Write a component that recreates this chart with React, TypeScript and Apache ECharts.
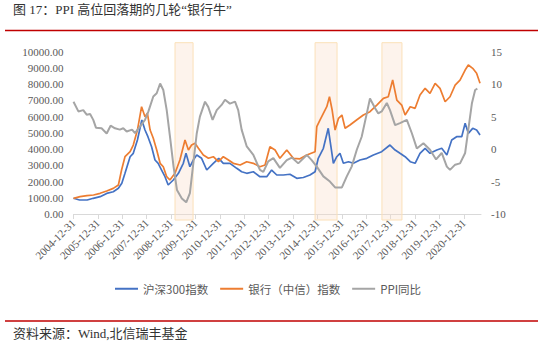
import React, { useEffect, useRef } from 'react';
import * as echarts from 'echarts';

// x = years elapsed since 2004-12-31
const TITLE = '图 17：PPI 高位回落期的几轮“银行牛”';
const SOURCE = '资料来源：Wind,北信瑞丰基金';
const seriesNames = ['沪深300指数', '银行（中信）指数', 'PPI同比'];

const csi300: number[][] = [
  [0, 967], [0.25, 862], [0.56, 862], [0.81, 967], [1.09, 1066], [1.36, 1269], [1.63, 1374], [1.84, 1583],
  [1.98, 1891], [2.11, 2507], [2.32, 3530], [2.45, 3739], [2.62, 4558], [2.8, 5790], [2.93, 5174], [3.05, 4762],
  [3.2, 4146], [3.34, 3326], [3.47, 3123], [3.61, 2710], [3.75, 2298], [3.88, 1786], [4.09, 2094], [4.3, 2507],
  [4.5, 3123], [4.61, 3739], [4.77, 2914], [4.91, 3326], [5.05, 3634], [5.25, 3431], [5.46, 2710], [5.73, 3123],
  [5.95, 3431], [6.14, 3123], [6.41, 3123], [6.69, 2815], [6.89, 2606], [7.1, 2507], [7.37, 2606], [7.64, 2298],
  [7.92, 2298], [8.12, 2710], [8.33, 2402], [8.6, 2402], [8.87, 2450], [9.15, 2199], [9.42, 2250], [9.69, 2402],
  [9.9, 2606], [10.03, 3431], [10.24, 4047], [10.44, 5279], [10.55, 4146], [10.65, 3123], [10.79, 3530], [10.92, 3739],
  [11.06, 3123], [11.27, 3222], [11.47, 3123], [11.74, 3326], [12.02, 3431], [12.29, 3634], [12.63, 3838], [12.97, 4250],
  [13.18, 3942], [13.38, 3739], [13.59, 3530], [13.8, 3222], [14.0, 3123], [14.2, 3739], [14.41, 4047], [14.61, 3739],
  [14.89, 3942], [15.09, 4047], [15.3, 3634], [15.5, 4558], [15.7, 4762], [15.91, 4762], [16.05, 5587], [16.18, 4971],
  [16.36, 5279], [16.52, 5174], [16.66, 4866],
];

const bank: number[][] = [
  [0, 967], [0.27, 1066], [0.55, 1127], [0.82, 1170], [1.09, 1274], [1.36, 1417], [1.63, 1580], [1.84, 1786],
  [1.97, 2710], [2.11, 3530], [2.32, 3838], [2.45, 4250], [2.62, 5174], [2.79, 6610], [2.93, 5994], [3.03, 6203],
  [3.14, 5174], [3.27, 4663], [3.41, 3942], [3.55, 3123], [3.68, 2914], [3.82, 2298], [3.95, 2094], [4.16, 2507],
  [4.36, 3326], [4.57, 4558], [4.71, 3942], [4.84, 4250], [4.98, 4353], [5.12, 4047], [5.32, 3634], [5.53, 3431],
  [5.73, 3530], [5.94, 3222], [6.14, 3530], [6.35, 3326], [6.55, 3123], [6.83, 3018], [7.1, 3222], [7.37, 3123],
  [7.64, 2914], [7.85, 3018], [8.05, 4146], [8.26, 3942], [8.46, 3431], [8.74, 3942], [9.01, 3431], [9.28, 3400],
  [9.56, 3634], [9.9, 3838], [9.97, 5378], [10.1, 5790], [10.24, 6203], [10.38, 6610], [10.49, 7226], [10.6, 6406],
  [10.72, 5174], [10.86, 5895], [11.0, 6098], [11.13, 5279], [11.33, 5482], [11.6, 5790], [11.88, 6098], [12.15, 6302],
  [12.43, 6714], [12.7, 7127], [12.9, 7226], [13.08, 8254], [13.25, 7022], [13.45, 6714], [13.59, 6098], [13.8, 6610],
  [14.0, 6511], [14.2, 7330], [14.41, 7743], [14.61, 7435], [14.82, 8051], [15.02, 7743], [15.23, 6918], [15.43, 7226],
  [15.64, 7946], [15.84, 8254], [16.05, 8870], [16.18, 9178], [16.36, 8975], [16.52, 8667], [16.66, 8051],
];

const ppi: number[][] = [
  [0, 7.3], [0.2, 5.8], [0.4, 6.0], [0.54, 5.3], [0.68, 5.4], [0.81, 4.5], [0.92, 3.3], [1.15, 3.2], [1.36, 2.4],
  [1.52, 3.6], [1.7, 3.2], [1.9, 3.0], [2.04, 3.2], [2.18, 2.7], [2.4, 3.0], [2.52, 2.45], [2.73, 3.5], [2.93, 4.5],
  [3.07, 5.8], [3.27, 8.1], [3.41, 8.6], [3.55, 10.1], [3.68, 9.1], [3.82, 6.0], [3.97, 1.4], [4.1, -2.7], [4.24, -6.3],
  [4.44, -7.6], [4.62, -8.2], [4.77, -6.8], [4.91, -2.2], [5.05, 2.4], [5.18, 5.0], [5.39, 7.3], [5.52, 6.5], [5.7, 4.5],
  [5.87, 6.0], [6.07, 6.8], [6.21, 7.6], [6.41, 7.0], [6.62, 7.3], [6.75, 6.0], [6.89, 3.0], [7.1, 0.4], [7.37, -0.9],
  [7.64, -3.2], [7.78, -3.5], [7.98, -1.9], [8.19, -1.4], [8.46, -2.9], [8.74, -1.7], [8.95, -1.3], [9.21, -2.2],
  [9.56, -0.9], [9.76, -1.7], [9.97, -2.7], [10.24, -4.2], [10.51, -5.0], [10.72, -5.9], [11.0, -5.9], [11.2, -4.2],
  [11.4, -2.7], [11.61, -0.1], [11.81, 1.9], [12.02, 5.5], [12.15, 7.8], [12.36, 6.3], [12.49, 5.5], [12.63, 5.8],
  [12.84, 7.1], [12.97, 6.0], [13.18, 3.7], [13.38, 4.0], [13.66, 4.5], [13.87, 2.4], [14.07, 0.1], [14.34, 0.9],
  [14.61, -0.1], [14.86, -1.6], [15.09, -0.6], [15.3, -2.7], [15.43, -3.2], [15.64, -2.4], [15.84, -2.2], [16.05, -0.6],
  [16.18, 3.0], [16.33, 7.1], [16.46, 9.1], [16.55, 9.3],
];

const bands: number[][] = [
  [4.16, 4.9],
  [9.9, 10.8],
  [12.64, 13.46],
];

const BASE_YEAR = 2004;

export default function App() {
  const ref = useRef<HTMLDivElement>(null);
  useEffect(() => {
    if (!ref.current) return;
    const chart = echarts.init(ref.current, undefined, { renderer: 'svg' });
    const axisFont = "'Liberation Serif', 'Times New Roman', serif";
    const cjkFont = "'Liberation Serif', 'Noto Sans CJK SC', sans-serif";
    chart.setOption({
      animation: false,
      backgroundColor: '#ffffff',
      grid: { left: 73.5, right: 69, top: 51.7, bottom: 140 },
      legend: {
        left: 110,
        top: 278,
        icon: 'rect',
        itemWidth: 23,
        itemHeight: 2,
        itemGap: 12,
        data: seriesNames,
        textStyle: { color: '#595959', fontSize: 11.5, fontFamily: "'Noto Sans CJK SC', sans-serif" },
      },
      xAxis: {
        type: 'value',
        min: 0,
        max: 16.7,
        interval: 1,
        splitLine: { show: false },
        axisLine: { show: true, lineStyle: { color: '#d9d9d9', width: 1 } },
        axisTick: { show: true, length: 5, lineStyle: { color: '#d9d9d9' } },
        axisLabel: {
          rotate: 45,
          margin: 7,
          showMaxLabel: false,
          color: '#595959',
          fontSize: 11,
          fontFamily: axisFont,
          formatter: (v: number) => (Math.abs(v - Math.round(v)) < 1e-6 ? `${BASE_YEAR + Math.round(v)}-12-31` : ''),
        },
      },
      yAxis: [
        {
          type: 'value',
          min: 0,
          max: 10000,
          interval: 1000,
          splitLine: { show: false },
          axisLine: { show: false },
          axisTick: { show: false },
          axisLabel: {
            margin: 10,
            color: '#595959',
            fontSize: 11,
            fontFamily: axisFont,
            formatter: (v: number) => v.toFixed(2),
          },
        },
        {
          type: 'value',
          min: -10,
          max: 15,
          interval: 5,
          position: 'right',
          splitLine: { show: false },
          axisLine: { show: false },
          axisTick: { show: false },
          axisLabel: { margin: 10, color: '#595959', fontSize: 11, fontFamily: axisFont },
        },
      ],
      series: [
        {
          type: 'custom',
          name: 'bands',
          xAxisIndex: 0,
          yAxisIndex: 0,
          clip: false,
          silent: true,
          z: 1,
          encode: { x: [0, 1] },
          data: bands,
          renderItem: (params: any, api: any) => {
            const x0 = api.coord([api.value(0), 0])[0];
            const x1 = api.coord([api.value(1), 0])[0];
            const cs = params.coordSys;
            return {
              type: 'rect',
              shape: { x: x0, y: cs.y - 9, width: x1 - x0, height: cs.height + 15 },
              style: { fill: 'rgba(250, 222, 200, 0.35)', stroke: '#fbe0b8', lineWidth: 1 },
            };
          },
        },
        {
          type: 'line',
          name: seriesNames[0],
          data: csi300,
          yAxisIndex: 0,
          showSymbol: false,
          z: 3,
          color: '#4472c4',
          lineStyle: { width: 1.7, color: '#4472c4' },
        },
        {
          type: 'line',
          name: seriesNames[1],
          data: bank,
          yAxisIndex: 0,
          showSymbol: false,
          z: 4,
          color: '#ed7d31',
          lineStyle: { width: 1.7, color: '#ed7d31' },
        },
        {
          type: 'line',
          name: seriesNames[2],
          data: ppi,
          yAxisIndex: 1,
          showSymbol: false,
          z: 5,
          color: '#a5a5a5',
          lineStyle: { width: 2, color: '#a5a5a5' },
        },
      ],
      graphic: [
        {
          type: 'text',
          left: 13,
          top: 3,
          style: { text: TITLE, font: `13px ${cjkFont}`, fill: '#333333' },
        },
        {
          type: 'line',
          shape: { x1: 5, y1: 30.5, x2: 538, y2: 30.5 },
          style: { stroke: '#c00000', lineWidth: 1.5 },
        },
        {
          type: 'line',
          shape: { x1: 5, y1: 321, x2: 538, y2: 321 },
          style: { stroke: '#c00000', lineWidth: 1.5 },
        },
        {
          type: 'text',
          left: 13,
          top: 327,
          style: { text: SOURCE, font: `13px ${cjkFont}`, fill: '#333333' },
        },
      ],
    });
    return () => chart.dispose();
  }, []);
  return <div ref={ref} style={{ position: 'fixed', left: 0, top: 0, width: 550, height: 354 }} />;
}
